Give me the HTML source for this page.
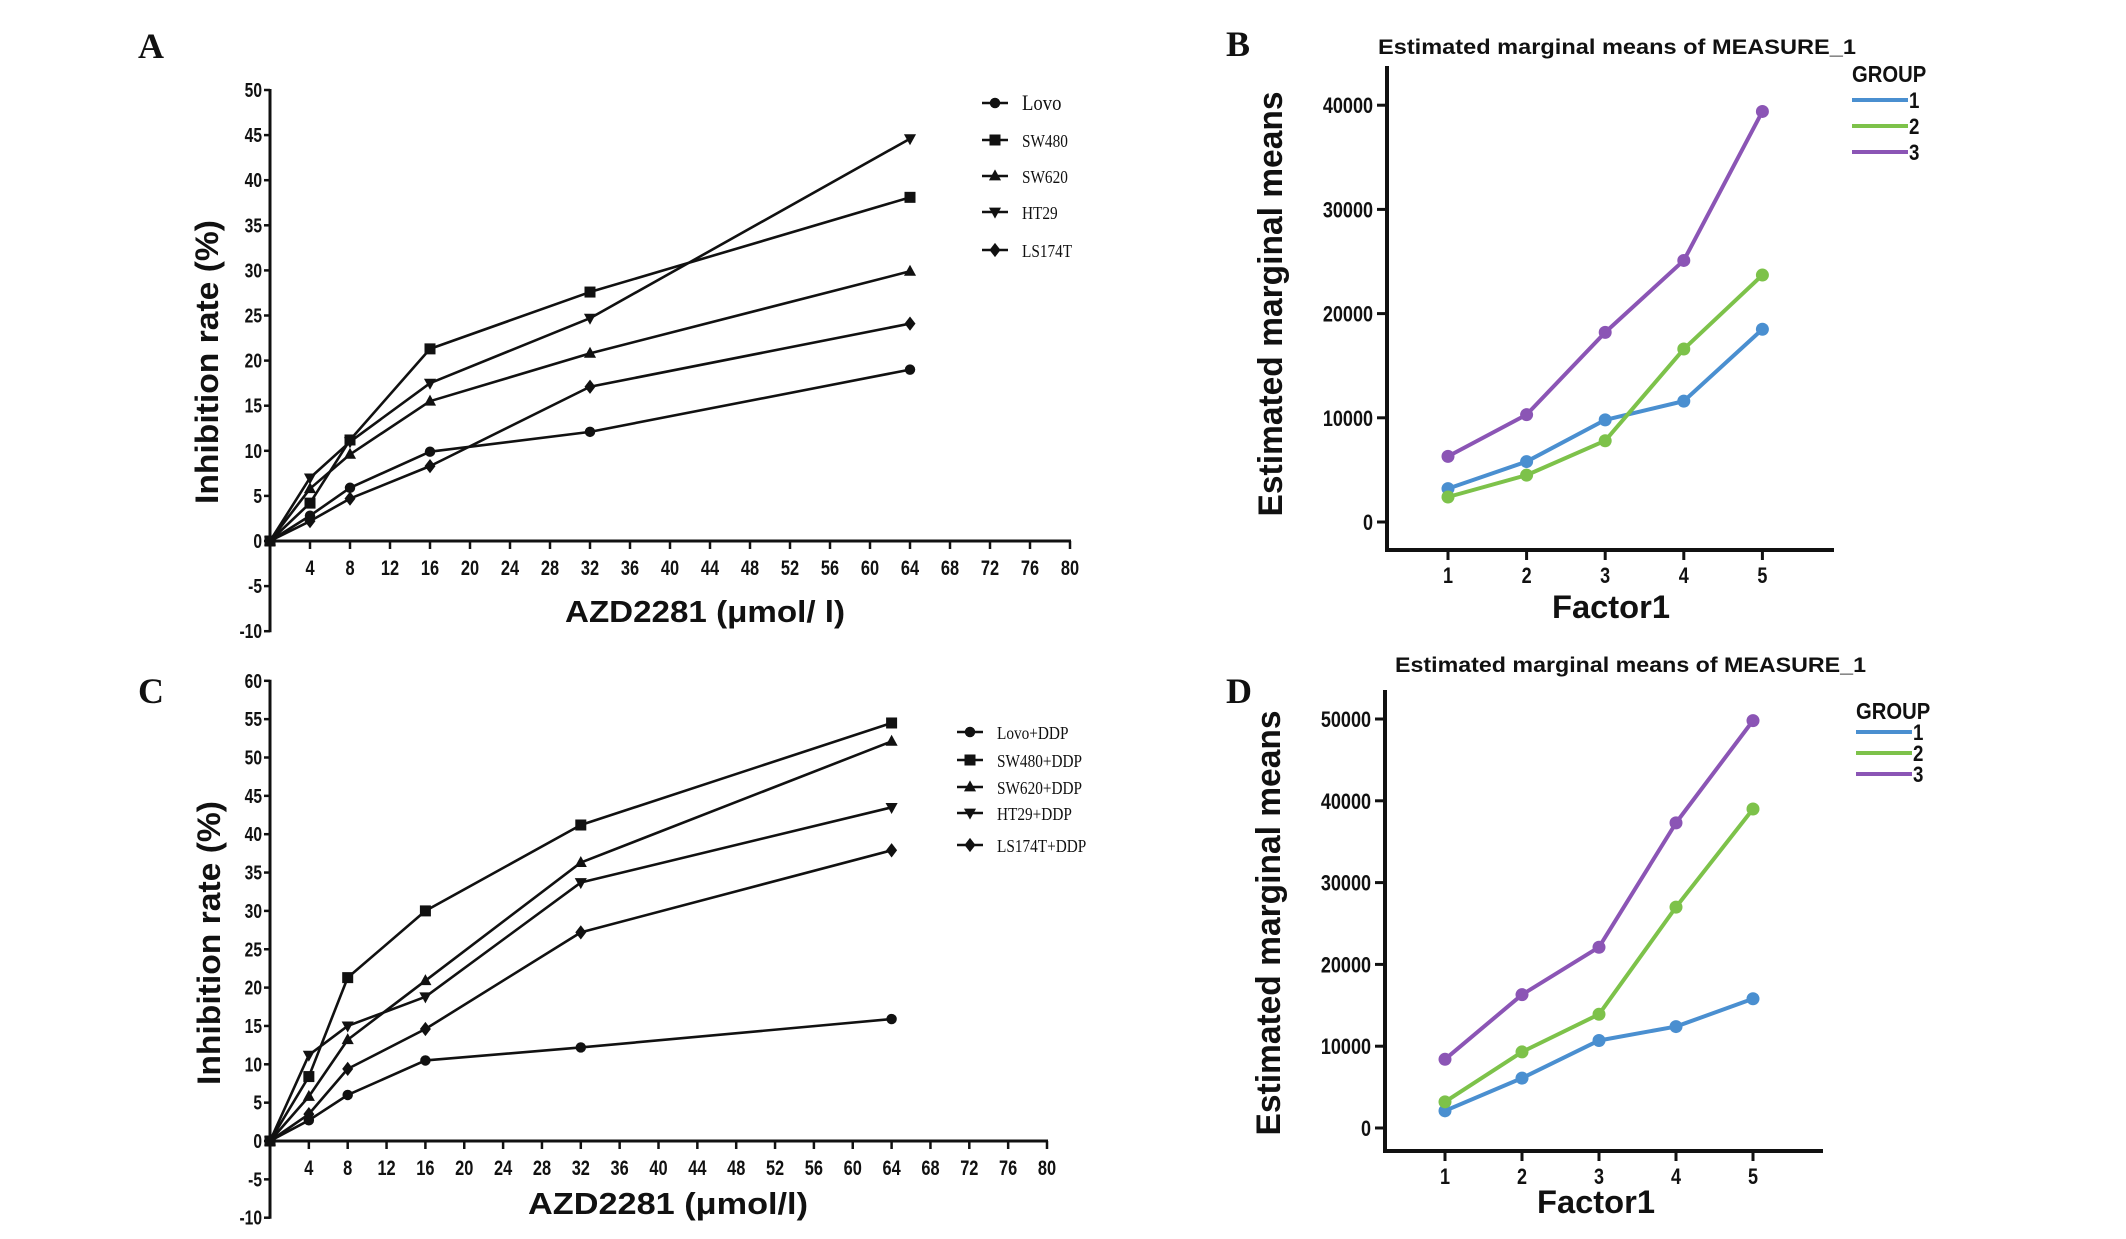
<!DOCTYPE html>
<html><head><meta charset="utf-8"><style>
html,body{margin:0;padding:0;background:#fff;}
svg{display:block;}
text{font-family:"Liberation Sans",sans-serif;}
.serif{font-family:"Liberation Serif",serif;}
</style></head><body>
<svg id="fig" width="2126" height="1239" viewBox="0 0 2126 1239" xmlns="http://www.w3.org/2000/svg">
<rect width="2126" height="1239" fill="#fff"/>
</svg>
<script>
// ---- Panel A data ----
const doseA = [0, 4, 8, 16, 32, 64];
const lovoA = [0, 2.8, 5.9, 9.9, 12.1, 19.0];
const sw480A = [0, 4.2, 11.2, 21.3, 27.6, 38.1];
const sw620A = [0, 5.8, 9.6, 15.5, 20.8, 29.9];
const ht29A = [0, 7.0, 11.0, 17.5, 24.7, 44.6];
const ls174tA = [0, 2.2, 4.7, 8.3, 17.1, 24.1];
const namesA = ["Lovo", "SW480", "SW620", "HT29", "LS174T"];
const yTicksA = [-10, -5, 0, 5, 10, 15, 20, 25, 30, 35, 40, 45, 50];
const xTicksAC = [4, 8, 12, 16, 20, 24, 28, 32, 36, 40, 44, 48, 52, 56, 60, 64, 68, 72, 76, 80];
// ---- Panel C data ----
const doseC = [0, 4, 8, 16, 32, 64];
const lovoC = [0, 2.7, 6.0, 10.5, 12.2, 15.9];
const sw480C = [0, 8.4, 21.3, 30.0, 41.2, 54.5];
const sw620C = [0, 5.8, 13.2, 20.9, 36.3, 52.1];
const ht29C = [0, 11.2, 15.0, 18.8, 33.7, 43.5];
const ls174tC = [0, 3.5, 9.4, 14.6, 27.2, 37.9];
const namesC = ["Lovo+DDP", "SW480+DDP", "SW620+DDP", "HT29+DDP", "LS174T+DDP"];
const yTicksC = [-10, -5, 0, 5, 10, 15, 20, 25, 30, 35, 40, 45, 50, 55, 60];
// ---- Panel B data ----
const factorB = [1, 2, 3, 4, 5];
const g1B = [3200, 5800, 9800, 11600, 18500];
const g2B = [2400, 4500, 7800, 16600, 23700];
const g3B = [6300, 10300, 18200, 25100, 39400];
const yTicksB = [0, 10000, 20000, 30000, 40000];
// ---- Panel D data ----
const factorD = [1, 2, 3, 4, 5];
const g1D = [2100, 6100, 10700, 12400, 15800];
const g2D = [3200, 9300, 13900, 27000, 39000];
const g3D = [8400, 16300, 22100, 37300, 49800];
const yTicksD = [0, 10000, 20000, 30000, 40000, 50000];
const groupNames = ["1", "2", "3"];

const NS = "http://www.w3.org/2000/svg";
const svg = document.getElementById("fig");
function el(tag, attrs, parent, txt) {
  const e = document.createElementNS(NS, tag);
  for (const k in attrs) e.setAttribute(k, attrs[k]);
  if (txt !== undefined) e.textContent = txt;
  (parent || svg).appendChild(e);
  return e;
}
function group(name, parent) {
  const g = el("g", {}, parent);
  
  
  return g;
}
function condText(parent, x, y, s, size, anchor, sx, extra) {
  const t = el("text", Object.assign({transform: `translate(${x},${y}) scale(${sx},1)`, "font-size": size, "font-weight": "bold", "text-anchor": anchor, fill: "#111"}, extra || {}), parent, s);
  return t;
}
function marker(parent, type, x, y, s) {
  let m;
  if (type === 0) m = el("circle", {cx: x, cy: y, r: s * 0.95, fill: "#111"}, parent);
  else if (type === 1) m = el("rect", {x: x - s, y: y - s, width: 2 * s, height: 2 * s, fill: "#111"}, parent);
  else if (type === 2) m = el("polygon", {points: `${x},${y - s * 1.2} ${x - s * 1.1},${y + s * 0.8} ${x + s * 1.1},${y + s * 0.8}`, fill: "#111"}, parent);
  else if (type === 3) m = el("polygon", {points: `${x},${y + s * 1.2} ${x - s * 1.1},${y - s * 0.8} ${x + s * 1.1},${y - s * 0.8}`, fill: "#111"}, parent);
  else m = el("polygon", {points: `${x},${y - s * 1.3} ${x + s},${y} ${x},${y + s * 1.3} ${x - s},${y}`, fill: "#111"}, parent);
  return m;
}

function panelLetter(letter, x, y) {
  const t = el("text", {x: x, y: y, "font-size": 36, "font-weight": "bold", class: "serif", fill: "#111"}, svg, letter);
  
  
}

function inhibitionPanel(cfg) {
  const g = group(cfg.name);
  const X = v => cfg.x0 + (v / 80) * (cfg.x80 - cfg.x0);
  const Y = v => cfg.y0 - v * cfg.pxPerUnit;
  const yMin = cfg.yTicks[0], yMax = cfg.yTicks[cfg.yTicks.length - 1];
  const ya = el("line", {x1: cfg.x0, y1: Y(yMin) + 1, x2: cfg.x0, y2: Y(yMax) - 1, stroke: "#111", "stroke-width": 3}, g);
  
  
  const xa = el("line", {x1: cfg.x0, y1: cfg.y0, x2: cfg.x80 + 1, y2: cfg.y0, stroke: "#111", "stroke-width": 3}, g);
  
  
  cfg.yTicks.forEach(v => {
    el("line", {x1: cfg.x0 - 6, y1: Y(v), x2: cfg.x0, y2: Y(v), stroke: "#111", "stroke-width": 2.5}, g);
    const t = condText(g, cfg.x0 - 8, Y(v) + 7, String(v), 20, "end", 0.78);
    
    
  });
  xTicksAC.forEach(v => {
    el("line", {x1: X(v), y1: cfg.y0, x2: X(v), y2: cfg.y0 + 8, stroke: "#111", "stroke-width": 2.5}, g);
    const t = condText(g, X(v), cfg.y0 + 34, String(v), 21, "middle", 0.78);
    
    
  });
  const yt = el("text", {transform: `translate(${cfg.ytX},${cfg.ytY}) rotate(-90)`, "font-size": 32, "font-weight": "bold", "text-anchor": "middle", textLength: 284, lengthAdjust: "spacingAndGlyphs", fill: "#111"}, g, "Inhibition rate (%)");
  
  
  const xt = el("text", {x: cfg.xtX, y: cfg.xtY, "font-size": 31, "font-weight": "bold", "text-anchor": "middle", textLength: 280, lengthAdjust: "spacingAndGlyphs", fill: "#111"}, g, cfg.xTitle);
  
  
  cfg.series.forEach((s, i) => {
    const sg = group('series-' + cfg.names[i].toLowerCase().replace(/[^a-z0-9]+/g, '-'), g);
    const pts = cfg.dose.map((d, j) => `${X(d)},${Y(s[j])}`).join(" ");
    el("polyline", {points: pts, fill: "none", stroke: "#111", "stroke-width": 2.6, "stroke-linejoin": "round"}, sg);
    cfg.dose.forEach((d, j) => {
      const m = marker(sg, i, X(d), Y(s[j]), 5.5);
      
      
    });
    const lg = group('legend-entry', g);
    const ly = cfg.legY[i];
    el("line", {x1: cfg.legX - 13, y1: ly, x2: cfg.legX + 13, y2: ly, stroke: "#111", "stroke-width": 2.6}, lg);
    marker(lg, i, cfg.legX, ly, 5.5);
    el("text", {transform: `translate(${cfg.legX + 27},${ly + 7}) scale(0.85,1)`, "font-size": (i === 0 && cfg.bigFirst) ? 22 : 18, class: "serif", fill: "#111"}, lg, cfg.names[i]);
  });
}

inhibitionPanel({name: "chart-a", x0: 270, x80: 1070, y0: 541, pxPerUnit: 9.02, yTicks: yTicksA,
  dose: doseA, series: [lovoA, sw480A, sw620A, ht29A, ls174tA], names: namesA,
  ytX: 218, ytY: 362, xtX: 705, xtY: 622, xTitle: "AZD2281 (μmol/ l)",
  legX: 995, legY: [103, 140, 176, 212, 250], bigFirst: true});
inhibitionPanel({name: "chart-c", x0: 270, x80: 1047, y0: 1141, pxPerUnit: 7.67, yTicks: yTicksC,
  dose: doseC, series: [lovoC, sw480C, sw620C, ht29C, ls174tC], names: namesC,
  ytX: 220, ytY: 943, xtX: 668, xtY: 1214, xTitle: "AZD2281 (μmol/l)",
  legX: 970, legY: [732, 760, 787, 813, 845], bigFirst: false});

const colors = ["#4a8fd0", "#7dc24a", "#8b55b5"];
function emmPanel(cfg) {
  const g = group(cfg.name);
  const X = v => cfg.x1 + (v - 1) * cfg.step;
  const Y = v => cfg.y0 - v * cfg.pxPer;
  const ya = el("line", {x1: cfg.ax, y1: cfg.top, x2: cfg.ax, y2: cfg.bottom + 2, stroke: "#111", "stroke-width": 4}, g);
  
  
  const xa = el("line", {x1: cfg.ax - 2, y1: cfg.bottom, x2: cfg.right, y2: cfg.bottom, stroke: "#111", "stroke-width": 4}, g);
  
  
  cfg.yTicks.forEach(v => {
    el("line", {x1: cfg.ax - 10, y1: Y(v), x2: cfg.ax, y2: Y(v), stroke: "#111", "stroke-width": 3}, g);
    const t = condText(g, cfg.ax - 14, Y(v) + 8, String(v), 22, "end", 0.82);
    
    
  });
  cfg.factor.forEach(v => {
    el("line", {x1: X(v), y1: cfg.bottom, x2: X(v), y2: cfg.bottom + 10, stroke: "#111", "stroke-width": 3}, g);
    const t = condText(g, X(v), cfg.bottom + 33, String(v), 22, "middle", 0.82);
    
    
  });
  const tt = el("text", {x: cfg.titleX, y: cfg.titleY, "font-size": 21, "font-weight": "bold", textLength: cfg.titleLen, lengthAdjust: "spacingAndGlyphs", fill: "#111"}, g, "Estimated  marginal  means of MEASURE_1");
  
  
  const yt = el("text", {transform: `translate(${cfg.ytX},${cfg.ytY}) rotate(-90)`, "font-size": 34, "font-weight": "bold", "text-anchor": "middle", textLength: 425, lengthAdjust: "spacingAndGlyphs", fill: "#111"}, g, "Estimated marginal means");
  
  
  const xt = el("text", {x: cfg.xtX, y: cfg.xtY, "font-size": 32, "font-weight": "bold", "text-anchor": "middle", textLength: 118, lengthAdjust: "spacingAndGlyphs", fill: "#111"}, g, "Factor1");
  
  
  cfg.series.forEach((s, i) => {
    const sg = group('series-group-' + groupNames[i], g);
    const pts = cfg.factor.map((f, j) => `${X(f)},${Y(s[j])}`).join(" ");
    el("polyline", {points: pts, fill: "none", stroke: colors[i], "stroke-width": 4, "stroke-linejoin": "round"}, sg);
    cfg.factor.forEach((f, j) => {
      const c = el("circle", {cx: X(f), cy: Y(s[j]), r: 6.5, fill: colors[i]}, sg);
      
      
    });
  });
  const lg = group('legend', g);
  const gt = condText(lg, cfg.legX, cfg.legY, "GROUP", 23, "start", 0.88);
  
  
  groupNames.forEach((n, i) => {
    const e = group('legend-entry', lg);
    const ly = cfg.legY + cfg.legGap * (i + 1) + cfg.legOff;
    el("line", {x1: cfg.legX, y1: ly, x2: cfg.legX + 56, y2: ly, stroke: colors[i], "stroke-width": 4}, e);
    condText(e, cfg.legX + 57, ly + 8, n, 22, "start", 0.85);
  });
}

emmPanel({name: "chart-b", ax: 1387, top: 66, bottom: 550, right: 1834, x1: 1448, step: 78.6, y0: 522, pxPer: 0.01042,
  yTicks: yTicksB, factor: factorB, series: [g1B, g2B, g3B],
  titleX: 1378, titleY: 54, titleLen: 478, ytX: 1282, ytY: 304, xtX: 1611, xtY: 618,
  legX: 1852, legY: 82, legGap: 26, legOff: -8});
emmPanel({name: "chart-d", ax: 1385, top: 690, bottom: 1151, right: 1823, x1: 1445, step: 77, y0: 1128, pxPer: 0.00818,
  yTicks: yTicksD, factor: factorD, series: [g1D, g2D, g3D],
  titleX: 1395, titleY: 672, titleLen: 471, ytX: 1280, ytY: 923, xtX: 1596, xtY: 1213,
  legX: 1856, legY: 719, legGap: 21, legOff: -8});

panelLetter("A", 138, 58);
panelLetter("B", 1226, 56);
panelLetter("C", 138, 703);
panelLetter("D", 1226, 703);
</script>
</body></html>
